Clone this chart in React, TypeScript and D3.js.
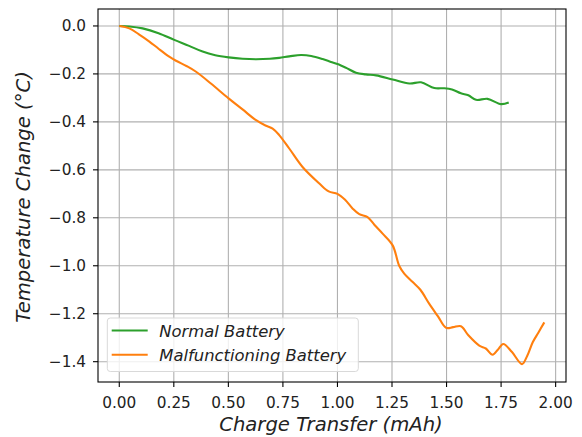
import React from "react";
import * as d3 from "d3";

const normalX = [0, 0.046, 0.107, 0.18, 0.252, 0.32, 0.382, 0.44, 0.501, 0.565, 0.627, 0.69, 0.733, 0.779, 0.833, 0.88, 0.932, 0.97, 1.0, 1.04, 1.085, 1.13, 1.177, 1.253, 1.33, 1.383, 1.444, 1.49, 1.525, 1.566, 1.6, 1.635, 1.688, 1.75, 1.785];
const normalY = [0, -0.002, -0.01, -0.03, -0.058, -0.083, -0.107, -0.122, -0.131, -0.137, -0.139, -0.137, -0.133, -0.127, -0.121, -0.125, -0.138, -0.15, -0.159, -0.175, -0.195, -0.202, -0.206, -0.223, -0.24, -0.235, -0.259, -0.26, -0.265, -0.281, -0.289, -0.308, -0.304, -0.326, -0.319];
const malfX = [0, 0.046, 0.09, 0.138, 0.18, 0.229, 0.26, 0.31, 0.352, 0.42, 0.501, 0.565, 0.627, 0.67, 0.703, 0.733, 0.779, 0.84, 0.917, 0.96, 1.0, 1.035, 1.07, 1.1, 1.138, 1.17, 1.207, 1.253, 1.283, 1.306, 1.345, 1.38, 1.421, 1.46, 1.498, 1.53, 1.566, 1.6, 1.65, 1.68, 1.711, 1.735, 1.76, 1.8, 1.846, 1.87, 1.895, 1.92, 1.948];
const malfY = [0, -0.01, -0.035, -0.065, -0.095, -0.128, -0.145, -0.168, -0.191, -0.24, -0.302, -0.348, -0.393, -0.415, -0.428, -0.455, -0.511, -0.588, -0.657, -0.69, -0.7, -0.725, -0.762, -0.785, -0.797, -0.83, -0.866, -0.915, -1.0, -1.033, -1.068, -1.1, -1.159, -1.21, -1.259, -1.256, -1.252, -1.29, -1.333, -1.345, -1.371, -1.35, -1.326, -1.36, -1.41, -1.375, -1.319, -1.28, -1.236];

const xTicks = [0, 0.25, 0.5, 0.75, 1.0, 1.25, 1.5, 1.75, 2.0];
const yTicks = [0, -0.2, -0.4, -0.6, -0.8, -1.0, -1.2, -1.4];
const seriesNames = ["Normal Battery", "Malfunctioning Battery"];
const seriesColors = ["#2ca02c", "#ff7f0e"];

const W = 582, H = 437;
const L = 98, R = 566, T = 9, B = 382;
const FONT = "'DejaVu Sans', sans-serif";
const TICK_FS = 15.3;
const LABEL_FS = 19.6;
const LEGEND_FS = 16.4;

export default function App() {
  const xmax = 1.95, ymin = -1.414;
  const x = d3.scaleLinear().domain([-xmax * 0.05, xmax * 1.05]).range([L, R]);
  const y = d3.scaleLinear().domain([ymin * 1.05, -ymin * 0.05]).range([B, T]);
  const line = d3.line<[number, number]>().x(d => x(d[0])).y(d => y(d[1])).curve(d3.curveCatmullRom.alpha(0.5));
  const normal = normalX.map((v, i) => [v, normalY[i]] as [number, number]);
  const malf = malfX.map((v, i) => [v, malfY[i]] as [number, number]);
  const fmtY = (v: number) => (v === 0 ? "0.0" : v.toFixed(1).replace("-", "\u2212"));
  return (
    <svg width={W} height={H} style={{ position: "absolute", left: 0, top: 0, background: "#fff" }}>
      <rect x={0} y={0} width={W} height={H} fill="#fff" />
      <g>
        {xTicks.map(t => (
          <line key={"gx" + t} x1={x(t)} x2={x(t)} y1={T} y2={B} stroke="#b0b0b0" strokeWidth={1.1} />
        ))}
        {yTicks.map(t => (
          <line key={"gy" + t} x1={L} x2={R} y1={y(t)} y2={y(t)} stroke="#b0b0b0" strokeWidth={1.1} />
        ))}
      </g>
      <path d={line(normal) || ""} fill="none" stroke={seriesColors[0]} strokeWidth={2.1} />
      <path d={line(malf) || ""} fill="none" stroke={seriesColors[1]} strokeWidth={2.1} />
      <rect x={L} y={T} width={R - L} height={B - T} fill="none" stroke="#000" strokeWidth={1.1} />
      {xTicks.map(t => (
        <g key={"tx" + t}>
          <line x1={x(t)} x2={x(t)} y1={B} y2={B + 5} stroke="#000" strokeWidth={1.1} />
          <text x={x(t)} y={407.5} textAnchor="middle" fontFamily={FONT} fontSize={TICK_FS} fill="#222">{t.toFixed(2)}</text>
        </g>
      ))}
      {yTicks.map(t => (
        <g key={"ty" + t}>
          <line x1={L - 5} x2={L} y1={y(t)} y2={y(t)} stroke="#000" strokeWidth={1.1} />
          <text x={86} y={y(t) + 5.5} textAnchor="end" fontFamily={FONT} fontSize={TICK_FS} fill="#222">{fmtY(t)}</text>
        </g>
      ))}
      <text x={331} y={431} textAnchor="middle" fontFamily={FONT} fontSize={LABEL_FS} fontStyle="italic" fill="#222">Charge Transfer (mAh)</text>
      <text transform={`translate(30,197) rotate(-90)`} textAnchor="middle" fontFamily={FONT} fontSize={LABEL_FS} fontStyle="italic" fill="#222">Temperature Change (°C)</text>
      <g>
        <rect x={107.3} y={318} width={251} height={53.5} rx={3} fill="#fff" fillOpacity={0.8} stroke="#d9d9d9" strokeWidth={1} />
        {seriesNames.map((n, i) => (
          <g key={n}>
            <line x1={111.7} x2={147.7} y1={330.5 + i * 24.2} y2={330.5 + i * 24.2} stroke={seriesColors[i]} strokeWidth={2.1} />
            <text x={159.3} y={336.5 + i * 24.2} fontFamily={FONT} fontSize={LEGEND_FS} fontStyle="italic" fill="#222">{n}</text>
          </g>
        ))}
      </g>
    </svg>
  );
}
